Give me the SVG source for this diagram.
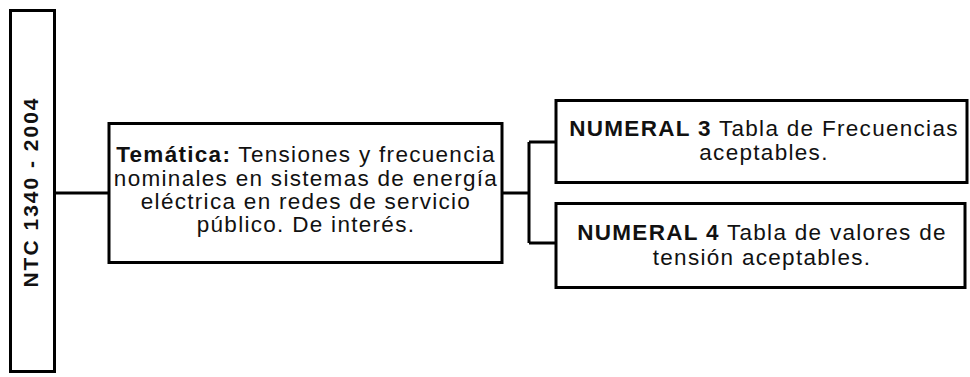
<svg xmlns="http://www.w3.org/2000/svg" width="970" height="377" viewBox="0 0 970 377">
<style>
.box{fill:#fff;stroke:#000;stroke-width:3}
.t{font-family:"Liberation Sans",Arial,sans-serif;font-size:22.5px;letter-spacing:1.3px;fill:#111;text-anchor:middle}
.b{font-weight:bold}
.v{font-size:21px;letter-spacing:2px}
.c{fill:none;stroke:#000;stroke-width:3}
</style>
<rect width="970" height="377" fill="#fff"/>
<g id="connectors">
<path class="c" d="M55 193 H109"/>
<path class="c" d="M502 193 H529 M529 142 V243 M529 142 H556 M529 243 H556"/>
</g>
<g id="ntc">
<rect class="box" x="10.5" y="10.5" width="44" height="361"/>
<text class="t b v" transform="translate(38 192) rotate(-90)">NTC 1340 - 2004</text>
</g>
<g id="tematica">
<rect class="box" x="109" y="123.5" width="393" height="139"/>
<text class="t"><tspan x="306" y="162"><tspan class="b">Temática:</tspan> Tensiones y frecuencia</tspan><tspan x="306" y="185.5">nominales en sistemas de energía</tspan><tspan x="306" y="209">eléctrica en redes de servicio</tspan><tspan x="306" y="232">público. De interés.</tspan></text>
</g>
<g id="numeral3">
<rect class="box" x="556" y="100.5" width="411" height="82"/>
<text class="t"><tspan x="764" y="136"><tspan class="b">NUMERAL 3</tspan> Tabla de Frecuencias</tspan><tspan x="764" y="160">aceptables.</tspan></text>
</g>
<g id="numeral4">
<rect class="box" x="556" y="203.5" width="409" height="84"/>
<text class="t"><tspan x="762" y="240"><tspan class="b">NUMERAL 4</tspan> Tabla de valores de</tspan><tspan x="762" y="265">tensión aceptables.</tspan></text>
</g>
</svg>
